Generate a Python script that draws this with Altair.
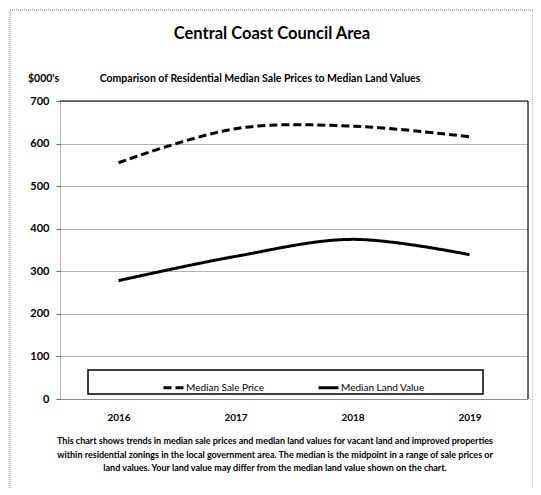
import altair as alt
import pandas as pd

years = ["2016", "2017", "2018", "2019"]
sale_price = [555, 635, 641, 616]
land_value = [278, 335, 375, 339]
series_names = ["Median Sale Price", "Median Land Value"]
y_ticks = [0, 100, 200, 300, 400, 500, 600, 700]
title_text = "Central Coast Council Area"
subtitle_text = "Comparison of Residential Median Sale Prices to Median Land Values"
unit_text = "$000's"
note_lines = [
    "This chart shows trends in median sale prices and median land values for vacant land and improved  properties",
    "within residential zonings in the local government area.  The median is the midpoint in a range of sale prices or",
    "land values.  Your  land value may differ from the median land value shown on the chart.",
]

df = pd.DataFrame({
    "Year": years * 2,
    "Value": sale_price + land_value,
    "Series": [series_names[0]] * len(years) + [series_names[1]] * len(years),
})

W, H = 468, 298
FONT = "Lato"
one = pd.DataFrame({"k": [0]})

lines = alt.Chart(df).mark_line(strokeWidth=3, interpolate="catmull-rom", color="black").encode(
    x=alt.X("Year:N", sort=years, title=None,
            axis=alt.Axis(labelFont=FONT, labelFontSize=10, labelFontWeight="bold", labelColor="black",
                          labelAngle=0, ticks=False, labelPadding=13,
                          domainColor="#666", domainDash=[1, 1], grid=False)),
    y=alt.Y("Value:Q", title=None, scale=alt.Scale(domain=[0, 700], nice=False),
            axis=alt.Axis(values=y_ticks, labelFont=FONT, labelFontSize=11, labelFontWeight="bold",
                          labelColor="black", tickSize=4, tickColor="#666", labelPadding=7,
                          domainColor="#666", domainDash=[1, 1],
                          grid=True, gridColor="#666", gridDash=[1, 1], gridWidth=1)),
    strokeDash=alt.StrokeDash("Series:N",
                              scale=alt.Scale(domain=series_names, range=[[8, 4], [1, 0]]),
                              legend=alt.Legend(orient="none", legendX=102, legendY=275, direction="horizontal",
                                                title=None, symbolType="stroke", symbolSize=400,
                                                symbolStrokeWidth=3, symbolStrokeColor="black",
                                                labelFont=FONT, labelFontSize=10, labelColor="black",
                                                labelOffset=1, columnPadding=48, padding=0)),
)

legend_box = alt.Chart(one).mark_rect(fill="white", stroke="black", strokeWidth=1.5).encode(
    x=alt.value(28), x2=alt.value(423), y=alt.value(269), y2=alt.value(293))

outer = alt.Chart(one).mark_rect(fill=None, stroke="#777", strokeDash=[1, 1], strokeWidth=1).encode(
    x=alt.value(-50), x2=alt.value(473), y=alt.value(-91), y2=alt.value(390))

top_rule = alt.Chart(one).mark_rule(color="black", strokeWidth=1.2).encode(
    x=alt.value(0), x2=alt.value(W), y=alt.value(0))
right_rule = alt.Chart(one).mark_rule(color="black", strokeWidth=1.2).encode(
    x=alt.value(W), y=alt.value(0), y2=alt.value(H))

def txt(s, x, y, size, align="center", weight="bold"):
    return alt.Chart(one).mark_text(font=FONT, fontSize=size, fontWeight=weight, align=align,
                                    baseline="middle", color="black").encode(
        x=alt.value(x), y=alt.value(y), text=alt.value(s))

texts = [
    txt(title_text, 212, -67, 16.5),
    txt(unit_text, -32, -22, 10.5, align="left"),
    txt(subtitle_text, 200, -22, 10.5),
]
for i, s in enumerate(note_lines):
    texts.append(txt(s, 215, 340 + 13.5 * i, 9))

chart = alt.layer(outer, lines, top_rule, right_rule, legend_box, *texts).properties(
    width=W, height=H,
    autosize=alt.AutoSizeParams(type="none"),
    padding={"left": 52, "top": 93, "right": 5, "bottom": 90},
    background="white",
).configure_view(stroke=None)

chart.save("out.html", embed_options={"renderer": "svg", "actions": False})
